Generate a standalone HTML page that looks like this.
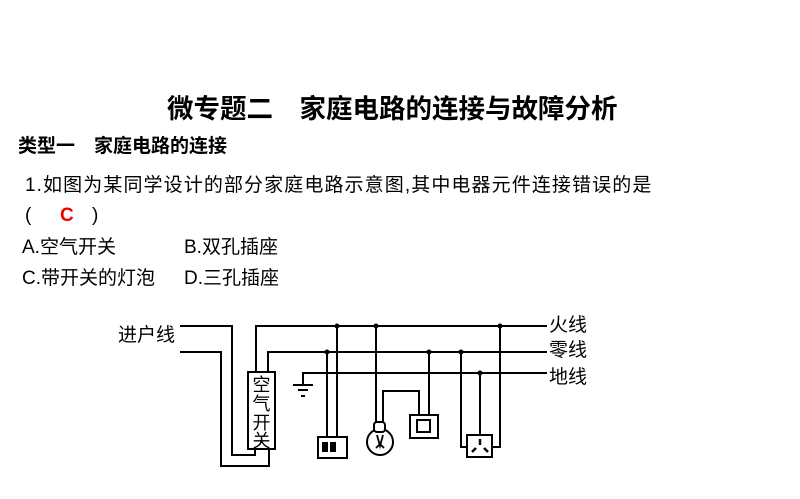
<!DOCTYPE html>
<html><head><meta charset="utf-8"><style>
html,body{margin:0;padding:0;background:#fff;}
body{width:800px;height:499px;position:relative;overflow:hidden;font-family:"Liberation Sans","Noto Sans CJK SC",sans-serif;color:#000;}
.t{position:absolute;white-space:nowrap;line-height:1;}
</style></head><body>
<div class="t" style="left:167px;top:96px;font-size:26.5px;font-weight:bold;">微专题二　家庭电路的连接与故障分析</div>
<div class="t" style="left:18px;top:137px;font-size:19px;font-weight:bold;">类型一　家庭电路的连接</div>
<div class="t" style="left:25px;top:176px;font-size:19px;letter-spacing:1.1px;">1.如图为某同学设计的部分家庭电路示意图,其中电器元件连接错误的是</div>
<div class="t" style="left:25px;top:206px;font-size:19px;">(</div>
<div class="t" style="left:60px;top:206px;font-size:19px;color:#e00;font-weight:bold;">C</div>
<div class="t" style="left:92px;top:206px;font-size:19px;">)</div>
<div class="t" style="left:22px;top:238px;font-size:19px;">A.空气开关</div>
<div class="t" style="left:184px;top:238px;font-size:19px;">B.双孔插座</div>
<div class="t" style="left:22px;top:269px;font-size:19px;">C.带开关的灯泡</div>
<div class="t" style="left:184px;top:269px;font-size:19px;">D.三孔插座</div>
<svg width="800" height="499" style="position:absolute;left:0;top:0;" fill="none" stroke="#000" stroke-width="2">
<text x="118" y="341" font-size="19" fill="#000" stroke="none" font-family="Liberation Sans,Noto Sans CJK SC,sans-serif">进户线</text>
<text x="549" y="331" font-size="19" fill="#000" stroke="none" font-family="Liberation Sans,Noto Sans CJK SC,sans-serif">火线</text>
<text x="549" y="356" font-size="19" fill="#000" stroke="none" font-family="Liberation Sans,Noto Sans CJK SC,sans-serif">零线</text>
<text x="549" y="383" font-size="19" fill="#000" stroke="none" font-family="Liberation Sans,Noto Sans CJK SC,sans-serif">地线</text>
<polyline points="180,326 232,326 232,455 255,455 255,449"/>
<polyline points="180,352 221,352 221,466 269,466 269,449"/>
<rect x="248" y="372" width="27" height="77"/>
<g font-size="18" fill="#000" stroke="none" font-family="Noto Sans CJK SC,sans-serif" text-anchor="middle">
<text x="261.5" y="391">空</text><text x="261.5" y="410">气</text><text x="261.5" y="429">开</text><text x="261.5" y="447">关</text></g>
<polyline points="256,372 256,326 547,326"/>
<polyline points="268,372 268,352 547,352"/>
<polyline points="303,386 303,373 547,373"/>
<line x1="293" y1="385" x2="313" y2="385"/>
<line x1="298" y1="390" x2="308" y2="390"/>
<line x1="301" y1="396" x2="305" y2="396"/>
<line x1="327" y1="352" x2="327" y2="437"/>
<line x1="337" y1="326" x2="337" y2="437"/>
<rect x="318" y="437" width="29" height="21"/>
<rect x="323" y="443" width="4" height="8" fill="#000"/>
<rect x="331" y="443" width="4" height="8" fill="#000"/>
<line x1="376" y1="326" x2="376" y2="424"/>
<polyline points="383,424 383,391 419,391 419,415"/>
<circle cx="380" cy="442" r="13"/>
<rect x="374" y="422" width="11" height="10" rx="3" fill="#fff"/>
<path d="M377,435 L380,446 L383,435 M376,448 L380,444 L384,448" stroke-width="1.8"/>
<rect x="410" y="415" width="28" height="23"/>
<rect x="417" y="420" width="13" height="12"/>
<line x1="429" y1="352" x2="429" y2="415"/>
<polyline points="461,352 461,447 467,447"/>
<polyline points="500,326 500,447 492,447"/>
<line x1="480" y1="373" x2="480" y2="435"/>
<rect x="467" y="435" width="25" height="22"/>
<line x1="480" y1="439" x2="480" y2="445" stroke-width="2.5"/>
<line x1="472" y1="452" x2="476" y2="448" stroke-width="2.5"/>
<line x1="488" y1="452" x2="484" y2="448" stroke-width="2.5"/>
<g fill="#000" stroke="none">
<circle cx="337" cy="326" r="2.5"/><circle cx="376" cy="326" r="2.5"/><circle cx="500" cy="326" r="2.5"/>
<circle cx="327" cy="352" r="2.5"/><circle cx="429" cy="352" r="2.5"/><circle cx="461" cy="352" r="2.5"/>
<circle cx="480" cy="373" r="2.5"/>
</g>
</svg>
</body></html>
